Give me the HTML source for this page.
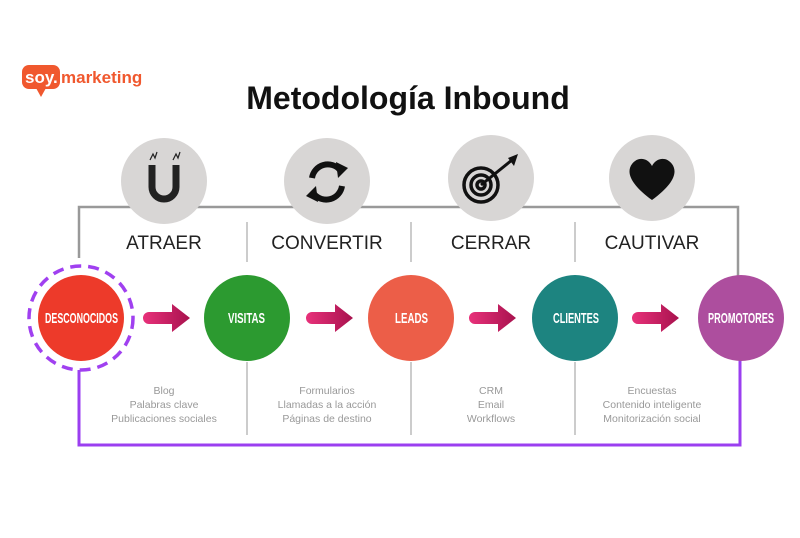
<!DOCTYPE html>
<html><head><meta charset="utf-8"><style>
body{margin:0;background:#fff;}
svg text{font-family:"Liberation Sans",sans-serif;}
.lb{font-family:"Liberation Sans",sans-serif;font-weight:bold;fill:#fff;font-size:15px;}
.st{font-size:19px;fill:#222;}
.sm{font-size:10.5px;fill:#999;}
</style></head><body>
<svg width="800" height="533" viewBox="0 0 800 533">
<defs><linearGradient id="g" x1="0" x2="1"><stop offset="0" stop-color="#e8317a"/><stop offset="1" stop-color="#a8124e"/></linearGradient></defs>
<rect x="22" y="65" width="38" height="24" rx="7" fill="#f0582e"/>
<polygon points="36,88 46,88 41,97" fill="#f0582e"/>
<text x="25" y="83" font-size="17" font-weight="bold" fill="#fff">soy.</text>
<text x="61" y="83" font-size="17" font-weight="bold" fill="#f0582e">marketing</text>
<text x="408" y="109" text-anchor="middle" font-size="32" font-weight="bold" fill="#111">Metodología Inbound</text>
<polyline points="79,258 79,207 738,207 738,276" fill="none" stroke="#999" stroke-width="2.5"/>
<g stroke="#ccc" stroke-width="2">
<line x1="247" y1="222" x2="247" y2="262"/><line x1="411" y1="222" x2="411" y2="262"/><line x1="575" y1="222" x2="575" y2="262"/>
<line x1="247" y1="362" x2="247" y2="435"/><line x1="411" y1="362" x2="411" y2="435"/><line x1="575" y1="362" x2="575" y2="435"/>
</g>
<polyline points="79,370 79,445 740,445 740,355" fill="none" stroke="#9b3ff0" stroke-width="3"/>
<g fill="#d8d6d5"><circle cx="164" cy="181" r="43"/><circle cx="327" cy="181" r="43"/><circle cx="491" cy="178" r="43"/><circle cx="652" cy="178" r="43"/></g>
<path d="M152,165 V187 a12,12 0 0 0 24,0 V165" fill="none" stroke="#222" stroke-width="7"/>
<path d="M150,160 l3,-6 2,4 2,-6 M173,160 l3,-6 2,4 2,-6" stroke="#222" fill="none" stroke-width="1.2"/>
<path d="M312,178 a16,16 0 0 1 28,-8" fill="none" stroke="#111" stroke-width="6"/><polygon points="336,162 348,168 338,178" fill="#111"/>
<path d="M342,186 a16,16 0 0 1 -28,8" fill="none" stroke="#111" stroke-width="6"/><polygon points="318,202 306,196 316,186" fill="#111"/>
<g fill="none" stroke="#111" stroke-width="3.5"><circle cx="481" cy="185" r="17"/><circle cx="481" cy="185" r="10"/><circle cx="481" cy="185" r="4"/></g>
<line x1="481" y1="185" x2="512" y2="160" stroke="#111" stroke-width="3"/><polygon points="508,158 518,154 514,166" fill="#111"/>
<path d="M652,200 C630,184 626,172 632,164 C638,156 648,158 652,166 C656,158 666,156 672,164 C678,172 674,184 652,200Z" fill="#111"/>
<g class="st" text-anchor="middle"><text x="164" y="249">ATRAER</text><text x="327" y="249">CONVERTIR</text><text x="491" y="249">CERRAR</text><text x="652" y="249">CAUTIVAR</text></g>
<circle cx="81" cy="318" r="52" fill="none" stroke="#a040f0" stroke-width="3.5" stroke-dasharray="11,7"/>
<circle cx="81" cy="318" r="43" fill="#ed3a2a"/>
<circle cx="247" cy="318" r="43" fill="#2c9a30"/>
<circle cx="411" cy="318" r="43" fill="#ec5e48"/>
<circle cx="575" cy="318" r="43" fill="#1d8480"/>
<circle cx="741" cy="318" r="43" fill="#ad4e9e"/>
<g class="lb">
<text x="45" y="323" textLength="73" lengthAdjust="spacingAndGlyphs">DESCONOCIDOS</text>
<text x="228" y="323" textLength="37" lengthAdjust="spacingAndGlyphs">VISITAS</text>
<text x="395" y="323" textLength="33" lengthAdjust="spacingAndGlyphs">LEADS</text>
<text x="553" y="323" textLength="46" lengthAdjust="spacingAndGlyphs">CLIENTES</text>
<text x="708" y="323" textLength="66" lengthAdjust="spacingAndGlyphs">PROMOTORES</text>
</g>
<g fill="url(#g)">
<path d="M149,312 h23 v-8 l18,14 -18,14 v-8 h-23 a6,6 0 0 1 0,-12Z"/>
<path d="M312,312 h23 v-8 l18,14 -18,14 v-8 h-23 a6,6 0 0 1 0,-12Z"/>
<path d="M475,312 h23 v-8 l18,14 -18,14 v-8 h-23 a6,6 0 0 1 0,-12Z"/>
<path d="M638,312 h23 v-8 l18,14 -18,14 v-8 h-23 a6,6 0 0 1 0,-12Z"/>
</g>
<g class="sm" text-anchor="middle">
<text x="164" y="394">Blog</text><text x="164" y="408">Palabras clave</text><text x="164" y="422">Publicaciones sociales</text>
<text x="327" y="394">Formularios</text><text x="327" y="408">Llamadas a la acción</text><text x="327" y="422">Páginas de destino</text>
<text x="491" y="394">CRM</text><text x="491" y="408">Email</text><text x="491" y="422">Workflows</text>
<text x="652" y="394">Encuestas</text><text x="652" y="408">Contenido inteligente</text><text x="652" y="422">Monitorización social</text>
</g>
</svg>
</body></html>
